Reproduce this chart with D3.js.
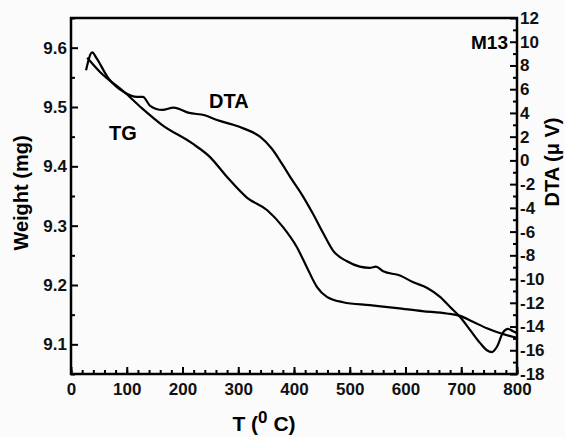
<!DOCTYPE html>
<html><head><meta charset="utf-8">
<script src="https://cdn.jsdelivr.net/npm/d3@7"></script>
<style>
html,body{margin:0;padding:0;background:#fbfbfb;}
svg{display:block;font-family:"Liberation Sans",Arial,sans-serif;font-weight:bold;}
</style></head><body>
<svg id="c" width="565" height="437"></svg>
<script>
// ---- data ----
const tgT = [29, 52, 97, 127, 163, 217, 249, 280, 316, 352, 380, 405, 423, 441, 459, 488, 536, 585, 630, 674, 698, 721, 746, 769, 800];
const tgW = [9.583, 9.559, 9.524, 9.498, 9.470, 9.439, 9.416, 9.382, 9.347, 9.326, 9.298, 9.264, 9.230, 9.197, 9.180, 9.171, 9.166, 9.161, 9.156, 9.152, 9.148, 9.138, 9.127, 9.119, 9.111];
const dtaT = [27, 38, 46, 66, 97, 118, 129, 142, 164, 184, 212, 240, 262, 291, 309, 339, 360, 380, 396, 413, 434, 452, 470, 495, 518, 536, 547, 560, 590, 613, 639, 662, 680, 698, 716, 734, 746, 755, 764, 775, 784, 793, 800];
const dtaV = [7.6, 9.1, 8.6, 7.0, 5.7, 5.35, 5.35, 4.6, 4.25, 4.45, 4.0, 3.8, 3.4, 3.0, 2.7, 2.0, 1.0, -0.4, -1.6, -2.8, -4.5, -6.1, -7.6, -8.5, -8.95, -9.05, -8.95, -9.35, -9.7, -10.25, -10.75, -11.5, -12.35, -13.2, -14.3, -15.4, -16.0, -16.15, -15.7, -14.5, -14.2, -14.4, -14.55];
const xTicks = [0, 100, 200, 300, 400, 500, 600, 700, 800];
const wTicks = [9.1, 9.2, 9.3, 9.4, 9.5, 9.6];
const dTicks = [-18, -16, -14, -12, -10, -8, -6, -4, -2, 0, 2, 4, 6, 8, 10, 12];

// ---- layout ----
const W = 565, H = 437;
const m = {l: 71, t: 18, r: 48, b: 63};
const svg = d3.select("#c");
const x = d3.scaleLinear().domain([0, 800]).range([m.l, W - m.r]);
const yW = d3.scaleLinear().domain([9.05, 9.65]).range([H - m.b, m.t]);
const yD = d3.scaleLinear().domain([-18, 12]).range([H - m.b, m.t]);

const fs = 17;
function styleAxis(g){
  g.select(".domain").remove();
  g.selectAll("line").attr("stroke", "#000").attr("stroke-width", 2);
  g.selectAll("text").attr("font-size", fs).attr("font-weight", "bold").attr("fill", "#111")
    .attr("font-family", '"Liberation Sans",Arial,sans-serif');
}

// minor ticks
svg.append("g").attr("transform", `translate(0,${H - m.b})`)
  .call(d3.axisBottom(x).tickValues(d3.range(0, 801, 20)).tickSizeInner(-4).tickSizeOuter(0).tickFormat(""))
  .call(styleAxis);
svg.append("g").attr("transform", `translate(${m.l},0)`)
  .call(d3.axisLeft(yW).tickValues(d3.range(9.05, 9.651, 0.1)).tickSizeInner(-4).tickSizeOuter(0).tickFormat(""))
  .call(styleAxis);
svg.append("g").attr("transform", `translate(${W - m.r},0)`)
  .call(d3.axisRight(yD).tickValues(d3.range(-17, 12, 2)).tickSizeInner(-4).tickSizeOuter(0).tickFormat(""))
  .call(styleAxis);

// major ticks
svg.append("g").attr("transform", `translate(0,${H - m.b})`)
  .call(d3.axisBottom(x).tickValues(xTicks).tickSizeInner(-7).tickSizeOuter(0).tickPadding(9).tickFormat(d3.format("d")))
  .call(styleAxis);
svg.append("g").attr("transform", `translate(${m.l},0)`)
  .call(d3.axisLeft(yW).tickValues(wTicks).tickSizeInner(-7).tickSizeOuter(0).tickPadding(4).tickFormat(d3.format(".1f")))
  .call(styleAxis);
svg.append("g").attr("transform", `translate(${W - m.r},0)`)
  .call(d3.axisRight(yD).tickValues(dTicks).tickSizeInner(-7).tickSizeOuter(0).tickPadding(3).tickFormat(d => d < 0 ? "-" + Math.abs(d) : String(d)))
  .call(styleAxis);

// frame
svg.append("rect").attr("x", m.l).attr("y", m.t).attr("width", W - m.l - m.r).attr("height", H - m.t - m.b)
  .attr("fill", "none").attr("stroke", "#000").attr("stroke-width", 2.5);

// curves
const tgData = tgT.map((t, i) => [t, tgW[i]]);
const dtaData = dtaT.map((t, i) => [t, dtaV[i]]);
svg.append("path").datum(tgData)
  .attr("d", d3.line().x(d => x(d[0])).y(d => yW(d[1])).curve(d3.curveMonotoneX))
  .attr("fill", "none").attr("stroke", "#000").attr("stroke-width", 2.2);
svg.append("path").datum(dtaData)
  .attr("d", d3.line().x(d => x(d[0])).y(d => yD(d[1])).curve(d3.curveMonotoneX))
  .attr("fill", "none").attr("stroke", "#000").attr("stroke-width", 2.2);

// labels
svg.append("text").attr("x", 109).attr("y", 140).attr("font-size", 20).text("TG");
svg.append("text").attr("x", 209).attr("y", 108).attr("font-size", 20).text("DTA");
svg.append("text").attr("x", 508).attr("y", 49).attr("font-size", 19).attr("text-anchor", "end").text("M13");

svg.append("text").attr("transform", "translate(28,193) rotate(-90)").attr("text-anchor", "middle")
  .attr("font-size", 20).text("Weight (mg)");
svg.append("text").attr("transform", "translate(559,162) rotate(-90)").attr("text-anchor", "middle")
  .attr("font-size", 20).text("DTA (\u03bc V)");

const xl = svg.append("text").attr("x", 264).attr("y", 431).attr("text-anchor", "middle").attr("font-size", 21);
xl.append("tspan").text("T (");
xl.append("tspan").attr("dy", -8).attr("font-size", 17).text("0");
xl.append("tspan").attr("dy", 8).text(" C)");
</script>
</body></html>
